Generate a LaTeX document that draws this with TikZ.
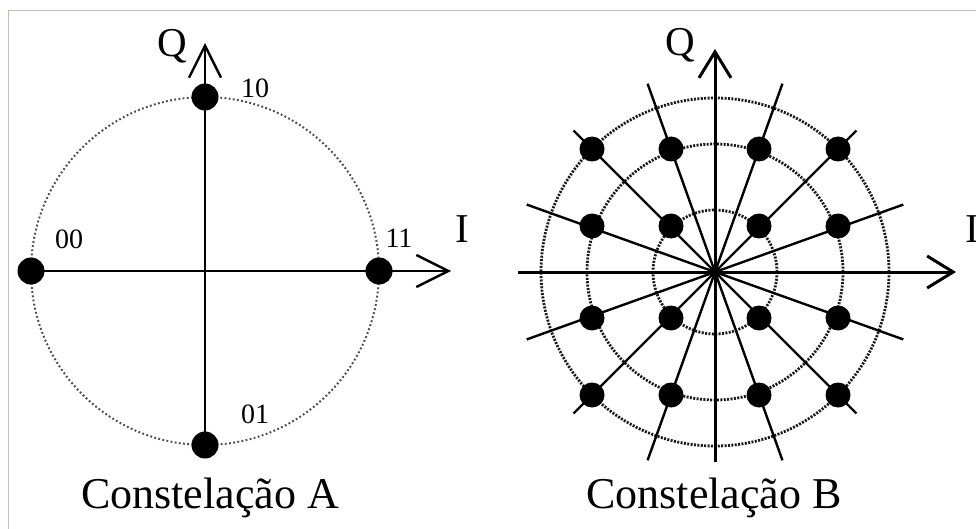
\documentclass[tikz,border=0pt]{standalone}
\usepackage{fontspec}
\setmainfont{Liberation Serif}
\usetikzlibrary{arrows.meta}
\definecolor{framegray}{RGB}{200,185,185}
\tikzset{
  constdot/.style={circle, fill=black, inner sep=0pt, minimum size=27pt},
  constdotB/.style={circle, fill=black, inner sep=0pt, minimum size=25pt},
  axisA/.style={line width=2.4pt, -{Straight Barb[length=32pt,width=32pt]}},
  axisB/.style={line width=3pt, -{Straight Barb[length=26pt,width=32pt]}},
  ringA/.style={black!70, line width=2pt, dash pattern=on 1.8pt off 2.4pt},
  ringB/.style={black!90, line width=2.8pt, dash pattern=on 2pt off 1.4pt},
  spoke/.style={line width=2.4pt},
  bitlabel/.style={inner sep=0pt, font=\fontsize{28}{32}\selectfont},
  axislabel/.style={inner sep=0pt, anchor=base, font=\fontsize{41}{48}\selectfont},
  caption/.style={inner sep=0pt, anchor=base, font=\fontsize{44}{52}\selectfont}
}
\begin{document}
\begin{tikzpicture}[x=1pt, y=-1pt]
  \useasboundingbox[fill=white] (0,0) rectangle (976,529);
  \draw[framegray, line width=1pt] (8,529) -- (8,11) -- (976,11);

  % Constelacao A
  \coordinate (cA) at (205,271);
  \draw[ringA] (cA) circle[radius=174pt];
  \coordinate (tipIA) at (451,271);
  \coordinate (tipQA) at (205,43);
  \node[constdot] (s00) at (31,271) {};
  \node[constdot] (s11) at (379,271) {};
  \node[constdot] (s10) at (205,97) {};
  \node[constdot] (s01) at (205,445) {};
  \draw[axisA] (s00.center) -- (tipIA);
  \draw[axisA] (s01.center) -- (tipQA);
  \node[bitlabel] (l10) at (255,88) {10};
  \node[bitlabel] (l00) at (69,239) {00};
  \node[bitlabel] (l11) at (399,238) {11};
  \node[bitlabel] (l01) at (255,414) {01};
  \node[axislabel] (qA) at (172,57) {Q};
  \node[axislabel] (iA) at (462,242) {I};
  \node[caption] (capA) at (210,508) {Constelação A};

  % Constelacao B
  \coordinate (cB) at (715,272);
  \foreach \r in {62,128,174}
    \draw[ringB] (cB) circle[radius=\r pt];
  \foreach \ang in {19.7,45,70.3,109.7,135,160.3}
    \draw[spoke] ([shift={(\ang:200pt)}]cB) -- ([shift={(\ang+180:200pt)}]cB);
  \coordinate (leftB) at (518,272);
  \coordinate (tipIB) at (956,272);
  \coordinate (botB) at (715,462);
  \coordinate (tipQB) at (715,49);
  \draw[axisB] (leftB) -- (tipIB);
  \draw[axisB] (botB) -- (tipQB);
  \foreach \col/\i in {-123/1,-44/2,44/3,123/4}
    \foreach \row/\j in {-123/1,-46/2,46/3,123/4}
      \node[constdotB] (b\i\j) at ([shift={(\col,\row)}]cB) {};
  \node[axislabel] (qB) at (680,56) {Q};
  \node[axislabel, anchor=base west] (iB) at (965,243) {I};
  \node[caption] (capB) at (714,508) {Constelação B};
\end{tikzpicture}
\end{document}
